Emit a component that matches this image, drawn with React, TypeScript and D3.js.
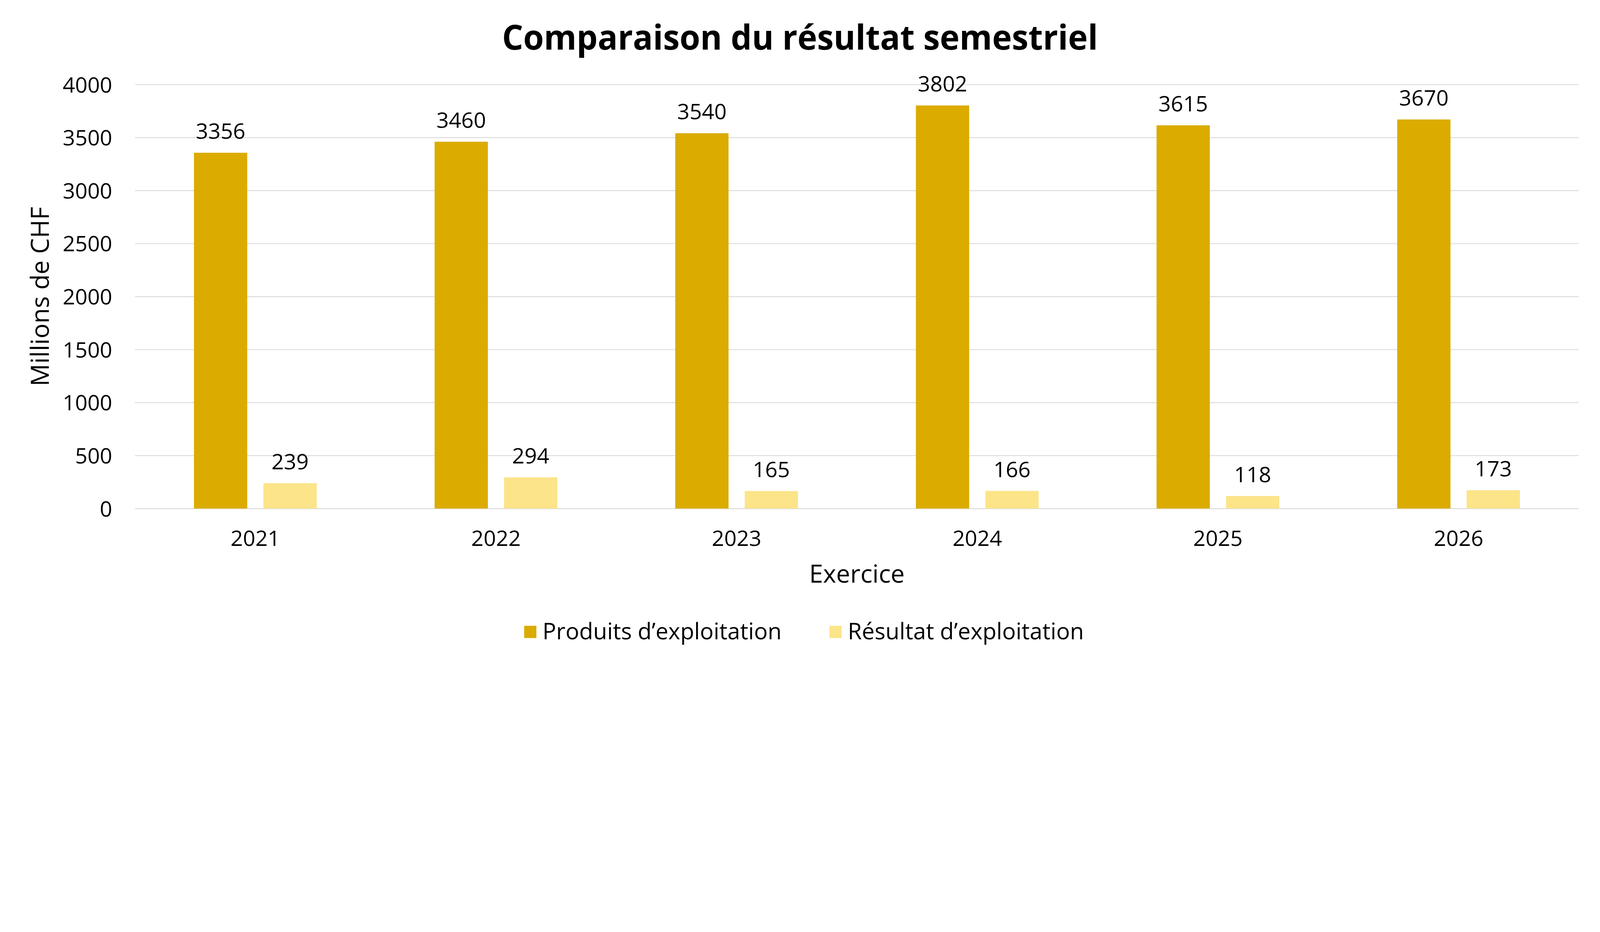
import React, { useEffect, useRef } from 'react';
import * as d3 from 'd3';

const years = ['2021', '2022', '2023', '2024', '2025', '2026'];
const produits = [3356, 3460, 3540, 3802, 3615, 3670];
const resultat = [239, 294, 165, 166, 118, 173];
const seriesNames = ['Produits d’exploitation', 'Résultat d’exploitation'];
const yTicks = [0, 500, 1000, 1500, 2000, 2500, 3000, 3500, 4000];

const colors = ['#DBAB00', '#FCE488'];
const FONT = '"Open Sans", "Noto Sans", sans-serif';

const W = 5760;
const H = 2385;

const App: React.FC = () => {
  const svgRef = useRef<SVGSVGElement>(null);

  useEffect(() => {
    if (!svgRef.current) return;
    const svg = d3.select(svgRef.current);
    svg.selectAll('*').remove();

    const margin = { top: 304, right: 76, bottom: 555, left: 486 };
    const innerWidth = W - margin.left - margin.right;
    const innerHeight = H - margin.top - margin.bottom;

    const g = svg.append('g').attr('transform', `translate(${margin.left},${margin.top})`);

    const x0 = d3.scaleBand<string>().domain(years).range([0, innerWidth]).paddingInner(0.49).paddingOuter(0.245);
    const x1 = d3.scaleBand<number>().domain([0, 1]).range([0, x0.bandwidth()]).paddingInner(0.233);
    const y = d3.scaleLinear().domain([0, 4000]).range([innerHeight, 0]);

    // gridlines + y labels
    const yAxis = g
      .append('g')
      .call(
        d3
          .axisLeft(y)
          .tickValues(yTicks)
          .tickSize(-innerWidth)
          .tickPadding(82)
          .tickFormat((d) => String(d))
      );
    yAxis.select('.domain').remove();
    yAxis.selectAll('.tick line').attr('stroke', '#d9d9d9').attr('stroke-width', 3);
    yAxis
      .selectAll('.tick text')
      .attr('font-family', FONT)
      .attr('font-size', 78)
      .attr('fill', '#000')
      .attr('dy', '0.36em');

    // x labels
    const xAxis = g
      .append('g')
      .attr('transform', `translate(0,${innerHeight})`)
      .call(d3.axisBottom(x0).tickSize(0).tickPadding(0));
    xAxis.select('.domain').remove();
    xAxis
      .selectAll('.tick text')
      .attr('font-family', FONT)
      .attr('font-size', 78)
      .attr('fill', '#000')
      .attr('dy', 0)
      .attr('y', 134);

    const groups = g
      .selectAll('.grp')
      .data(years)
      .enter()
      .append('g')
      .attr('class', 'grp')
      .attr('transform', (d) => `translate(${x0(d)},0)`);

    const vals = (i: number) => [produits[i], resultat[i]];

    groups
      .selectAll('rect')
      .data((_, i) => vals(i))
      .enter()
      .append('rect')
      .attr('x', (_, j) => x1(j) as number)
      .attr('width', x1.bandwidth())
      .attr('y', (d) => y(d))
      .attr('height', (d) => innerHeight - y(d))
      .attr('fill', (_, j) => colors[j]);

    groups
      .selectAll('text.lbl')
      .data((_, i) => vals(i))
      .enter()
      .append('text')
      .attr('class', 'lbl')
      .attr('x', (_, j) => (x1(j) as number) + x1.bandwidth() / 2)
      .attr('y', (d) => y(d) - 50)
      .attr('text-anchor', 'middle')
      .attr('font-family', FONT)
      .attr('font-size', 78)
      .attr('fill', '#000')
      .text((d) => String(d));

    // title
    svg
      .append('text')
      .attr('x', W / 2)
      .attr('y', 178)
      .attr('text-anchor', 'middle')
      .attr('font-family', FONT)
      .attr('font-weight', 700)
      .attr('font-size', 124)
      .attr('textLength', 2145)
      .attr('lengthAdjust', 'spacingAndGlyphs')
      .text('Comparaison du résultat semestriel');

    // axis titles
    svg
      .append('text')
      .attr('transform', `translate(176,${margin.top + innerHeight / 2}) rotate(-90)`)
      .attr('text-anchor', 'middle')
      .attr('font-family', FONT)
      .attr('font-size', 90)
      .text('Millions de CHF');

    svg
      .append('text')
      .attr('x', 3085)
      .attr('y', 2097)
      .attr('text-anchor', 'middle')
      .attr('font-family', FONT)
      .attr('font-size', 90)
      .text('Exercice');

    // legend
    const legendX = [1887, 2986];
    const legend = svg
      .selectAll('.leg')
      .data(seriesNames)
      .enter()
      .append('g')
      .attr('class', 'leg')
      .attr('transform', (_, i) => `translate(${legendX[i]},2252)`);
    legend.append('rect').attr('width', 44).attr('height', 44).attr('fill', (_, i) => colors[i]);
    legend
      .append('text')
      .attr('x', 66)
      .attr('y', 48)
      .attr('font-family', FONT)
      .attr('font-size', 82)
      .text((d) => d);
  }, []);

  return (
    <svg
      ref={svgRef}
      viewBox={`0 0 ${W} ${H}`}
      style={{
        position: 'absolute',
        left: 0,
        top: 0,
        width: '100vw',
        height: 'auto',
        display: 'block',
        background: '#fff',
      }}
    />
  );
};

export default App;
